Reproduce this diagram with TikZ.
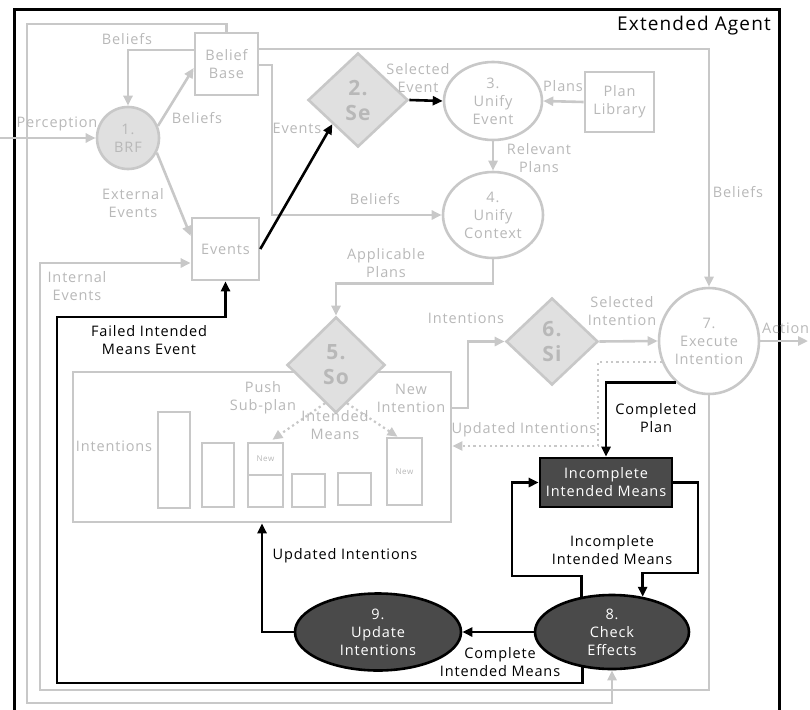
\documentclass[tikz,border=0pt]{standalone}
\usepackage{fontspec}
\setmainfont{Open Sans}[LetterSpace=6]
\usetikzlibrary{shapes.geometric,calc,arrows.meta}

\definecolor{lineg}{HTML}{C8C8C8}
\definecolor{textg}{HTML}{B8B8B8}
\definecolor{fillg}{HTML}{E0E0E0}
\definecolor{darkf}{HTML}{4A4A4A}

\newcommand\labfont{\fontsize{14.5}{18}\selectfont}
\newcommand\diafont{\fontsize{21}{25}\selectfont\bfseries}
\newcommand\stackfont{\fontsize{8}{9}\selectfont}
\newcommand\titlefont{\fontsize{19}{22}\selectfont}

\tikzset{
  every node/.style={font=\labfont, inner sep=0pt, align=center},
  gbox/.style={rectangle, draw=lineg, line width=2.6pt, fill=white, text=textg},
  gell/.style={ellipse, draw=lineg, line width=2.6pt, fill=white, text=textg},
  gdia/.style={diamond, draw=lineg, line width=2.6pt, fill=fillg, text=textg, font=\diafont},
  darkbox/.style={draw=black, line width=2.6pt, fill=darkf, text=white},
  tip/.style={-{Triangle[length=10pt,width=9pt]}},
  gline/.style={draw=lineg, line width=2.6pt, tip},
  bline/.style={draw=black, line width=2.6pt, tip},
  dline/.style={draw=lineg, line width=2.2pt, dash pattern=on 2.2pt off 3.2pt, tip},
  glab/.style={text=textg},
  blab/.style={text=black},
}

\begin{document}
\begin{tikzpicture}[x=1pt,y=-1pt]
\useasboundingbox (0,0) rectangle (810,709);

% agent frame
\draw[line width=3pt] (14,10) rectangle (779,715);
\node[anchor=west, font=\titlefont] (title) at (617,26) {Extended Agent};

% intention stack area
\node[gbox, minimum width=378pt, minimum height=150pt] (ib) at (262,447) {};
\node[gbox, minimum width=32pt, minimum height=96pt] (s1) at (174,460) {};
\node[gbox, minimum width=32pt, minimum height=64pt] (s2) at (218,475) {};
\node[gbox, minimum width=35pt, minimum height=32pt, font=\stackfont] (s3a) at (265.5,459) {New};
\node[gbox, minimum width=35pt, minimum height=32pt] (s3b) at (265.5,491) {};
\node[gbox, minimum width=33pt, minimum height=33pt] (s4) at (308.5,490.5) {};
\node[gbox, minimum width=33pt, minimum height=32pt] (s5) at (354.5,489) {};
\node[gbox, minimum width=35pt, minimum height=67pt, font=\stackfont] (s6) at (404.5,471.5) {New};

% reasoning cycle nodes
\node[circle, draw=lineg, line width=2.6pt, fill=fillg, text=textg, minimum size=62pt] (brf) at (128,138) {1.\\BRF};
\node[gbox, minimum width=63pt, minimum height=62pt] (bb) at (226.5,64) {Belief\\Base};
\node[gbox, minimum width=67pt, minimum height=62pt] (ev) at (225.5,249) {Events};
\node[gdia, minimum width=100pt, minimum height=94pt] (se) at (358,100) {2.\\Se};
\node[gell, minimum width=98pt, minimum height=78pt] (ue) at (493,101) {3.\\Unify\\Event};
\node[gbox, minimum width=69pt, minimum height=60pt] (pl) at (619.5,102) {Plan\\Library};
\node[gell, minimum width=100pt, minimum height=86pt] (uc) at (493,215) {4.\\Unify\\Context};
\node[gdia, minimum width=98pt, minimum height=96pt] (so) at (336,365) {5.\\So};
\node[gdia, minimum width=92pt, minimum height=87pt] (si) at (552,341.5) {6.\\Si};
\node[gell, minimum width=100pt, minimum height=106pt] (ex) at (709,341) {7.\\Execute\\Intention};
\node[darkbox, minimum width=132pt, minimum height=49pt] (iim) at (606,482.5) {Incomplete\\Intended Means};
\node[ellipse, darkbox, minimum width=154pt, minimum height=74pt] (ce) at (612,632) {8.\\Check\\Effects};
\node[ellipse, darkbox, minimum width=166pt, minimum height=77pt] (ui) at (378,632) {9.\\Update\\Intentions};

% free ends and corners
\coordinate (pin) at (0,138);
\coordinate (act) at (808,341);
\coordinate (ie) at (40,263);
\coordinate (f1) at (57,683);
\coordinate (f2) at (57,317);
\coordinate (uicorner) at (598,446);

% grey flows
\draw[gline] (pin) -- (brf);
\draw[gline] (brf.22) -- ($(bb.west)+(0,4)$);
\draw[gline] ($(bb.west)+(0,-14)$) -| (brf.north);
\draw[gline] (brf.-27) -- ($(ev.west)+(0,-13)$);
\draw[gline] (bb.north) |- (27,24) -- (27,703) -| (ce.south);
\draw[gline] ($(bb.east)+(0,-15)$) -| (ex.north);
\draw[gline] ($(bb.east)+(0,1)$) -- (272,65) |- (uc.west);
\draw[gline] (pl.west) -- (ue.east);
\draw[gline] (ue.south) -- (uc.north);
\draw[gline] (uc.south) -- ++(0,24) -| (so.north);
\draw[gline] ($(ib.east)+(0,-39)$) -- (468,408) |- (si.west);
\draw[gline] (si.east) -- (ex.west);
\draw[gline] (ex.east) -- (act);
\draw[gline] (ex.south) |- (40,690) -- (ie) -- (ie -| ev.west);
\draw[dline] (ex.204) -| (uicorner) -- (uicorner -| ib.east);
\draw[dline] ($(so.south)+(-11,-11)$) -- ($(s3a.north)+(7,-2)$);
\draw[dline] ($(so.south)+(11,-11)$) -- ($(s6.north)+(-7,0)$);

% black flows
\draw[bline] (ev.east) -- (se.south west);
\draw[bline] (se.east) -- (ue.west);
\draw[bline] (ex.231) -| (iim.north);
\draw[bline] (iim.east) -| (698,573) -| (ce.49);
\draw[bline] (ce.131) |- (512,576) |- (iim.west);
\draw[bline] (ce.west) -- (ui.east);
\draw[bline] (ui.west) -| (ib.south);
\draw[bline] (ce.230) |- (f1) -- (f2) -| (ev.south);

% flow labels
\node[glab] (lperc) at (57,124) {Perception};
\node[glab] (lbel1) at (127,39) {Beliefs};
\node[glab] (lbel2) at (197,118) {Beliefs};
\node[glab] (lext) at (133,203) {External\\Events};
\node[glab] (levs) at (297,128) {Events};
\node[glab] (lsel) at (418,78) {Selected\\Event};
\node[glab] (lpl) at (563,86) {Plans};
\node[glab] (lrel) at (539,158) {Relevant\\Plans};
\node[glab] (lbel3) at (375,199) {Beliefs};
\node[glab] (lbel4) at (738,192) {Beliefs};
\node[glab] (lint) at (77,286) {Internal\\Events};
\node[glab] (lapp) at (386,263) {Applicable\\Plans};
\node[glab] (lints) at (466,318) {Intentions};
\node[glab] (lseli) at (622,311) {Selected\\Intention};
\node[glab, anchor=west] (lact) at (762,328) {Action};
\node[glab] (lpush) at (263,398) {Push\\Sub-plan};
\node[glab] (lim) at (335,425) {Intended\\Means};
\node[glab] (lnew) at (411,398) {New\\Intention};
\node[glab] (lstack) at (114,446) {Intentions};
\node[glab] (lupd) at (524,430) {Updated Intentions};
\node[blab] (lfail) at (149,340) {Failed Intended\\Means Event};
\node[blab] (lcomp) at (656,418) {Completed\\Plan};
\node[blab] (linc) at (612,550) {Incomplete\\Intended Means};
\node[blab] (lcim) at (500,662) {Complete\\Intended Means};
\node[blab] (lupd2) at (345,556) {Updated Intentions};
\end{tikzpicture}
\end{document}
